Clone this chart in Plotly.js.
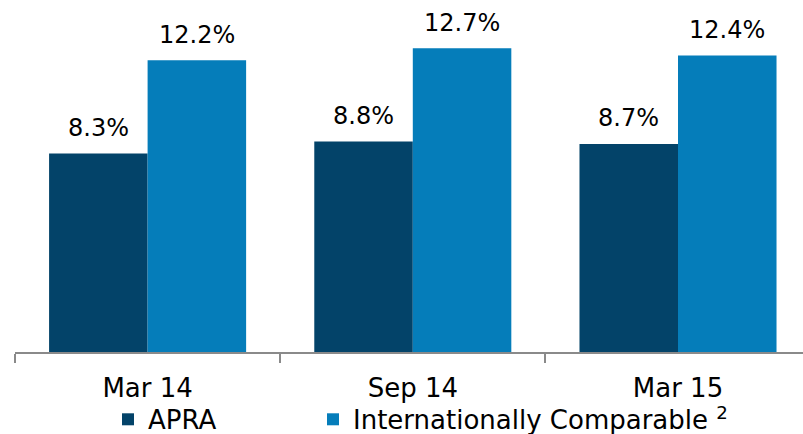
<!DOCTYPE html>
<html>
<head>
<meta charset="utf-8">
<script src="https://cdn.plot.ly/plotly-3.0.1.min.js"></script>
<style>html,body{margin:0;padding:0;background:#fff;}#chart{width:803px;height:434px;}</style>
</head>
<body>
<div id="chart"></div>
<script>
const categories = ["Mar 14", "Sep 14", "Mar 15"];
const apra = [8.3, 8.8, 8.7];
const intl = [12.2, 12.7, 12.4];
const seriesNames = ["APRA", "Internationally Comparable <sup>2</sup>"];

const colApra = "#034369";
const colIntl = "#057DBA";

const traces = [
  {type: "bar", x: categories, y: apra, name: seriesNames[0], marker: {color: colApra}, hoverinfo: "none", legend: "legend"},
  {type: "bar", x: categories, y: intl, name: seriesNames[1], marker: {color: colIntl}, hoverinfo: "none", legend: "legend2"}
];

const fontFam = "DejaVu Sans, Verdana, sans-serif";
const annotations = [];
const half = 49.25;
categories.forEach((c, i) => {
  annotations.push({x: c, y: apra[i], text: apra[i].toFixed(1) + "%", xref: "x", yref: "y",
    showarrow: false, xshift: -half, yanchor: "bottom", yshift: 9.5, font: {family: fontFam, size: 24, color: "#000"}});
  annotations.push({x: c, y: intl[i], text: intl[i].toFixed(1) + "%", xref: "x", yref: "y",
    showarrow: false, xshift: half, yanchor: "bottom", yshift: 9.5, font: {family: fontFam, size: 24, color: "#000"}});
});

const legendBase = {orientation: "h", yanchor: "middle", y: -0.203, xanchor: "left",
  font: {family: fontFam, size: 26, color: "#000"}, bgcolor: "rgba(0,0,0,0)", itemwidth: 30};

const layout = {
  width: 803, height: 434,
  margin: {l: 15, r: 0, t: 20, b: 81.5, autoexpand: false},
  paper_bgcolor: "#fff", plot_bgcolor: "#fff",
  barmode: "group", bargap: 0.257, bargroupgap: 0,
  font: {family: fontFam, size: 26, color: "#000"},
  xaxis: {
    type: "category", range: [-0.5, 2.5 - 7.6/265.3],
    showline: true, linecolor: "#8a8a8a", linewidth: 2,
    ticks: "outside", tickson: "boundaries", ticklen: 9, tickwidth: 2, tickcolor: "#8a8a8a",
    ticklabelstandoff: 12,
    tickfont: {family: fontFam, size: 26, color: "#000"},
    showgrid: false, zeroline: false, fixedrange: true, automargin: false
  },
  yaxis: {range: [0, 13.88], visible: false, showgrid: false, zeroline: false, fixedrange: true},
  showlegend: true,
  legend: Object.assign({}, legendBase, {x: (108 - 15) / 788}),
  legend2: Object.assign({}, legendBase, {x: (313 - 15) / 788}),
  annotations: annotations
};

Plotly.newPlot("chart", traces, layout, {displayModeBar: false, staticPlot: true});
</script>
</body>
</html>
